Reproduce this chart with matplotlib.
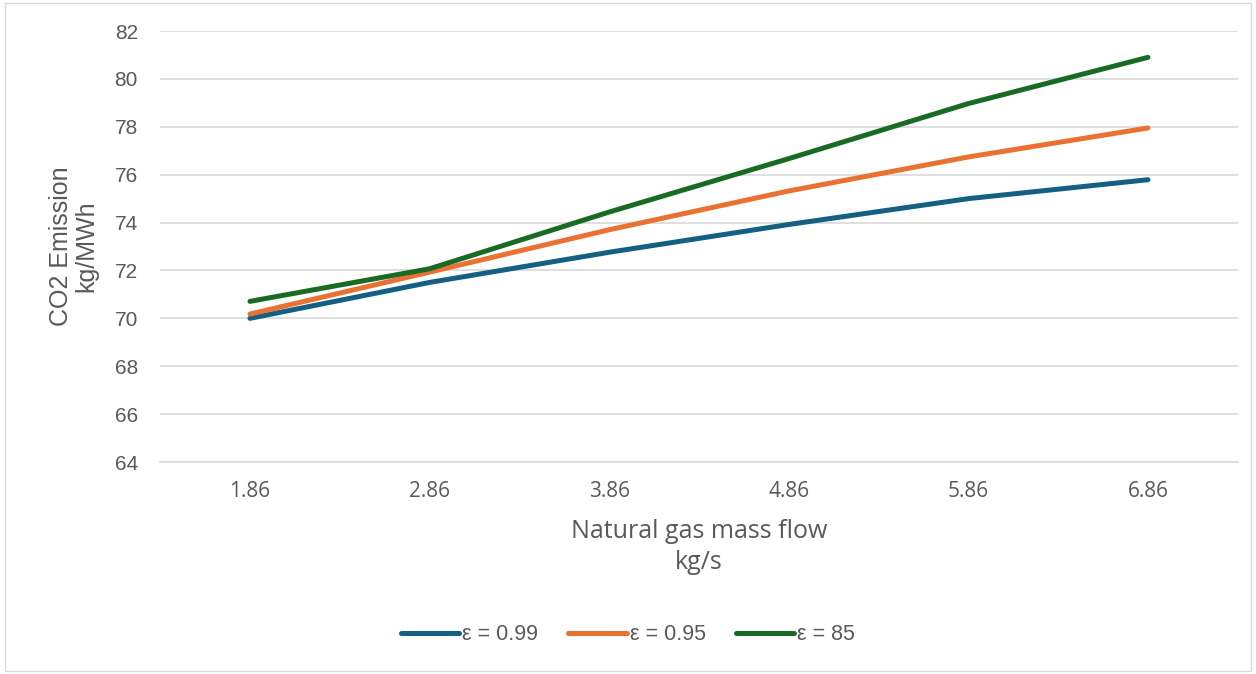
import matplotlib
matplotlib.use("Agg")
import matplotlib.pyplot as plt
from matplotlib.patches import Rectangle

plt.rcParams['font.family'] = ['Liberation Sans', 'DejaVu Sans']

flow = ["1.86", "2.86", "3.86", "4.86", "5.86", "6.86"]
eps_099 = [70.0, 71.5, 72.76, 73.92, 75.0, 75.79]
eps_095 = [70.18, 71.93, 73.7, 75.32, 76.74, 77.95]
eps_85 = [70.71, 72.07, 74.44, 76.67, 78.97, 80.9]

txt = '#595959'
fig = plt.figure(figsize=(12.56, 6.74), dpi=100)
fig.patches.append(Rectangle((0.004, 0.004), 0.992, 0.992, transform=fig.transFigure,
                             fill=False, edgecolor='#d9d9d9', linewidth=1))
ax = fig.add_axes([0.1275, 0.3145, 0.858, 0.6395])

x = range(len(flow))
ax.plot(x, eps_099, color='#156082', lw=3.6, solid_capstyle='round', label='ε = 0.99')
ax.plot(x, eps_095, color='#E97132', lw=3.6, solid_capstyle='round', label='ε = 0.95')
ax.plot(x, eps_85, color='#196B24', lw=3.6, solid_capstyle='round', label='ε = 85')

ax.set_xlim(-0.5, 5.5)
ax.set_ylim(64, 82)
ax.set_yticks(range(64, 83, 2))
ax.set_xticks(list(x))
ax.set_xticklabels(flow, family=['Open Sans', 'DejaVu Sans'])
ax.grid(axis='y', color='#d9d9d9', lw=1.2)
ax.set_axisbelow(True)
for s in ['top', 'right', 'left']:
    ax.spines[s].set_visible(False)
ax.spines['bottom'].set_color('#d9d9d9')
ax.spines['bottom'].set_linewidth(1.2)
ax.tick_params(length=0, labelsize=15, colors=txt)
ax.tick_params(axis='y', pad=16)
ax.tick_params(axis='x', pad=14)

ax.set_xlabel("Natural gas mass flow\nkg/s", fontsize=18, color=txt, labelpad=12,
              linespacing=1.3, family=['Open Sans', 'DejaVu Sans'])
ax.set_ylabel("CO2 Emission\nkg/MWh", fontsize=18, color=txt, labelpad=12,
              linespacing=1.05)

ax.legend(loc='center', ncol=3, frameon=False, fontsize=15.5, labelcolor=txt,
          handlelength=2.7, handletextpad=0.15, columnspacing=1.4,
          bbox_to_anchor=(0.5, 1 - 635 / 674), bbox_transform=fig.transFigure)

fig.savefig("out.png", dpi=100)
